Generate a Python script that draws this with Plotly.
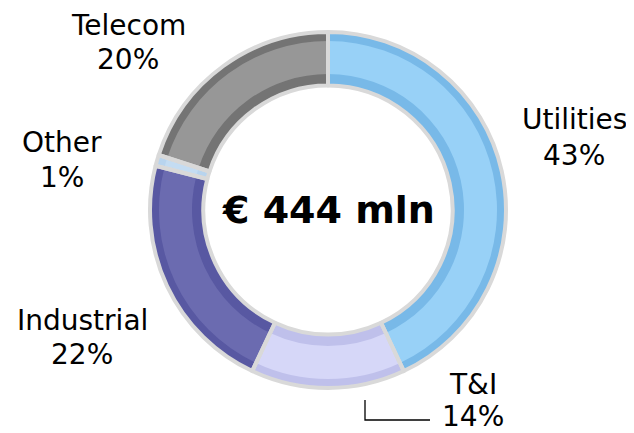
import plotly.graph_objects as go

categories = ["Utilities", "T&I", "Industrial", "Other", "Telecom"]
shares = [43, 14, 22, 1, 20]
edge_colors = ["#78b9e8", "#bfc0eb", "#5858a2", "#b8d4ee", "#747474"]
mid_colors = ["#98d1f7", "#d6d7f8", "#6b6bb0", "#c4dcf2", "#979797"]
total_label = "€ 444 mln"

# page has an 8px body margin; lay out figure in window pixel coordinates
OFF = 8
W, H = 634 - OFF, 433 - OFF


def px(x):
    return (x - OFF) / W


def py(y):
    return 1 - (y - OFF) / H


cx, cy, R = 328, 210, 178
dom_x = [px(cx - R), px(cx + R)]
dom_y = [py(cy + R), py(cy - R)]

common = dict(labels=categories, values=shares, sort=False, direction="clockwise",
              rotation=0, textinfo="none", showlegend=False)

# base ring (darker edges)
fig = go.Figure()
fig.add_trace(go.Pie(**common, hole=0.70, hoverinfo="label+percent",
                     marker=dict(colors=edge_colors, line=dict(width=0)),
                     domain=dict(x=dom_x, y=dom_y)))
# lighter middle band for bevel look
r2 = 169
fig.add_trace(go.Pie(**common, hole=136 / r2, hoverinfo="skip",
                     marker=dict(colors=mid_colors, line=dict(width=0)),
                     domain=dict(x=[px(cx - r2), px(cx + r2)], y=[py(cy + r2), py(cy - r2)])))
# borders on top
fig.add_trace(go.Pie(**common, hole=0.70, hoverinfo="skip",
                     marker=dict(colors=["rgba(0,0,0,0)"] * len(categories),
                                 line=dict(color="#d9d9d9", width=4)),
                     domain=dict(x=dom_x, y=dom_y)))

font = dict(family="DejaVu Sans, Verdana, sans-serif", size=28, color="#000000")
label_pos = {
    "Utilities": (574, 119, 155),
    "T&I": (473, 384, 416),
    "Industrial": (82, 320, 354),
    "Other": (62, 142, 177),
    "Telecom": (128, 25, 60),
}
for cat, val in zip(categories, shares):
    x, y1, y2 = label_pos[cat]
    for txt, yy in ((cat, y1), (f"{val}%", y2)):
        fig.add_annotation(x=px(x), y=py(yy), xref="paper", yref="paper",
                           text=txt, showarrow=False, font=font,
                           xanchor="center", yanchor="middle")

fig.add_annotation(x=px(cx), y=py(cy), xref="paper", yref="paper",
                   text=f"<b>{total_label}</b>", showarrow=False,
                   font=dict(family="DejaVu Sans, Verdana, sans-serif", size=38, color="#000000"),
                   xanchor="center", yanchor="middle")

# leader line for T&I
fig.add_shape(type="path", xref="paper", yref="paper",
              path=f"M {px(365)} {py(400)} L {px(365)} {py(420)} L {px(430)} {py(420)}",
              line=dict(color="#000000", width=1.3))

fig.update_layout(width=W, height=H, margin=dict(l=0, r=0, t=0, b=0),
                  paper_bgcolor="white", plot_bgcolor="white")
fig.write_html("out.html")
